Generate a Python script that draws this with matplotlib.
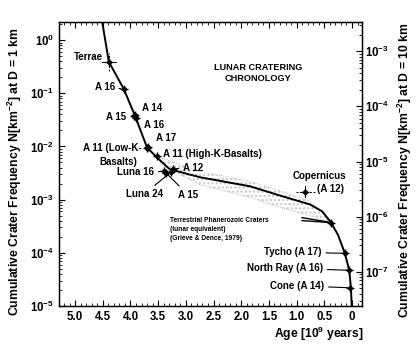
import matplotlib
matplotlib.use('Agg')
import matplotlib.pyplot as plt
from matplotlib.ticker import MultipleLocator, LogLocator, LogFormatterMathtext, NullFormatter

plt.rcParams['font.family'] = ['Liberation Sans', 'DejaVu Sans']
plt.rcParams['font.weight'] = 'bold'
plt.rcParams['mathtext.fontset'] = 'custom'
plt.rcParams['mathtext.rm'] = 'Liberation Sans:bold'
plt.rcParams['mathtext.it'] = 'Liberation Sans:bold'
plt.rcParams['mathtext.bf'] = 'Liberation Sans:bold'
plt.rcParams['mathtext.default'] = 'rm'

# ---- data ----
curve_age = [4.51, 4.39, 4.12, 3.92, 3.70, 3.52, 3.29, 2.74, 1.84, 1.25, 0.76, 0.54,
             0.38, 0.25, 0.13, 0.05, 0.02, 0.004]
curve_n = [2.19, 0.389, 0.120, 0.038, 0.00955, 0.00617, 0.00372, 0.00263, 0.00178,
           0.00115, 0.000813, 0.000603, 0.000372, 0.000214, 9.8e-5, 4.7e-5, 2.2e-5, 8.9e-6]

band_age = [3.47, 2.74, 1.84, 1.25, 0.76, 0.38]
band_upper = [0.0062, 0.0034, 0.0022, 0.0014, 0.00093, 0.00041]
band_lower = [0.0046, 0.0019, 0.0011, 0.00069, 0.0005, 0.00035]

pt_labels = ['Terrae', 'A 16a', 'A 14', 'A 15a', 'A 16b', 'A 17', 'A 11 LowK',
             'A 11 HighK', 'A 12', 'Luna 16', 'Luna 24', 'A 15b',
             'Copernicus', 'Phanerozoic', 'Tycho', 'North Ray', 'Cone']
pt_age = [4.39, 4.12, 3.91, 3.93, 3.90, 3.69, 3.71, 3.52, 3.23, 3.39, 3.27, 3.36,
          0.85, 0.38, 0.13, 0.05, 0.03]
pt_n = [0.39, 0.12, 0.039, 0.037, 0.035, 0.0097, 0.0093, 0.0065, 0.0038, 0.0034,
        0.0033, 0.0032, 0.0014, 0.00037, 9.8e-5, 4.7e-5, 2.2e-5]

terrae_xerr = 0.12
terrae_n_range = [0.26, 0.57]
cop_age_range = [0.67, 1.03]
cop_n_range = [0.0011, 0.0018]

# ---- figure ----
W, H = 417, 346
fig = plt.figure(figsize=(W / 100, H / 100), dpi=100)
ax = fig.add_axes([59 / W, 1 - 306 / H, 303 / W, 284 / H])

ax.set_yscale('log')
ax.set_xlim(5.29, -0.18)
ax.set_ylim(1e-5, 10 ** 0.34)

# band of terrestrial craters
ax.fill_between(band_age, band_lower, band_upper, facecolor='none', edgecolor='#c4c4c4',
                hatch='....', linewidth=0)
ax.plot(band_age, band_upper, color='#a0a0a0', lw=0.6, ls=':')
ax.plot(band_age, band_lower, color='#a0a0a0', lw=0.6, ls=':')

ax.plot(curve_age, curve_n, color='black', lw=1.4, zorder=3)

# error bars
ax.plot([pt_age[0] - terrae_xerr, pt_age[0] + terrae_xerr], [pt_n[0], pt_n[0]],
        color='black', lw=0.7)
ax.plot([pt_age[0], pt_age[0]], terrae_n_range, color='black', lw=0.7, ls=(0, (2, 1.5)))
ax.plot(cop_age_range, [pt_n[12], pt_n[12]], color='black', lw=0.7, ls=(0, (2, 1.5)))
ax.plot([pt_age[12], pt_age[12]], cop_n_range, color='black', lw=0.7)

ax.plot(pt_age, pt_n, ls='none', marker='+', ms=6, mew=1.0, color='black', zorder=4)
ax.plot(pt_age, pt_n, ls='none', marker='o', ms=2.6, color='black', zorder=4)

fs = 7
lead = dict(arrowstyle='-', lw=0.8, color='black', shrinkA=1, shrinkB=2)


def lab(i, text, dx, dy, ha, leader=False, size=fs, **kw):
    ax.annotate(text, (pt_age[i], pt_n[i]), xytext=(dx, dy), textcoords='offset pixels',
                ha=ha, va='center', fontsize=size, fontweight='bold',
                arrowprops=lead if leader else None, **kw)


lab(0, 'Terrae', -6, 5, 'right')
lab(1, 'A 16', -9, 2, 'right', leader=True)
lab(2, 'A 14', 7, 7, 'left')
lab(3, 'A 15', -8, -1, 'right')
lab(4, 'A 16', 8, -7, 'left')
lab(5, 'A 17', 8, 9, 'left')
lab(6, 'A 11 (Low-K-', -5, 0, 'right', leader=True)
lab(6, 'Basalts)', -9, -14, 'right')
lab(7, 'A 11 (High-K-Basalts)', 6, 2, 'left')
lab(8, 'A 12', 10, 1, 'left', leader=True)
lab(9, 'Luna 16', -10, -1, 'right', leader=True)
lab(10, 'Luna 24', -8, -22, 'right', leader=True)
lab(11, 'A 15', 12, -22, 'left', leader=True)
lab(12, 'Copernicus', 14, 16, 'center')
lab(12, '(A 12)', 12, 3, 'left')
lab(14, 'Tycho (A 17)', -23, 1, 'right', leader=True)
lab(15, 'North Ray (A 16)', -26, 2, 'right', leader=True)
lab(16, 'Cone (A 14)', -26, 2, 'right', leader=True)

ax.annotate('Terrestrial Phanerozoic Craters\n(lunar equivalent)\n(Grieve & Dence, 1979)',
            (pt_age[13], pt_n[13]), xytext=(-161, 6), textcoords='offset pixels',
            ha='left', va='top', fontsize=4.8, fontweight='bold', linespacing=1.45)
ax.annotate('', (pt_age[13], pt_n[13]), xytext=(-29, 5), textcoords='offset pixels',
            arrowprops=dict(arrowstyle='-', lw=1.0, color='black', shrinkA=0, shrinkB=2))
ax.annotate('', (pt_age[13], pt_n[13]), xytext=(-29, 2), textcoords='offset pixels',
            arrowprops=dict(arrowstyle='-', lw=1.0, color='black', shrinkA=0, shrinkB=2))

ax.text(0.657, 0.82, 'LUNAR CRATERING\nCHRONOLOGY', transform=ax.transAxes, ha='center',
        va='center', fontsize=6.6, fontweight='bold', linespacing=1.3)

# ticks
ax.xaxis.set_major_locator(MultipleLocator(0.5))
ax.xaxis.set_minor_locator(MultipleLocator(0.1))
ax.xaxis.set_major_formatter(matplotlib.ticker.FuncFormatter(
    lambda v, p: '0' if abs(v) < 1e-9 else f'{v:.1f}'))
ax.yaxis.set_major_locator(LogLocator(base=10, numticks=10))
ax.yaxis.set_minor_locator(LogLocator(base=10, subs=range(2, 10), numticks=20))
ax.yaxis.set_major_formatter(LogFormatterMathtext())
ax.yaxis.set_minor_formatter(NullFormatter())
ax.tick_params(which='both', direction='in', top=True, right=False, labelsize=8.3)
ax.tick_params(which='major', length=4, width=0.8)
ax.tick_params(which='minor', length=2, width=0.6)
for s in ax.spines.values():
    s.set_linewidth(1.0)

ax2 = ax.twinx()
ax2.set_yscale('log')
ax2.set_ylim(10 ** -7.62, 10 ** -2.47)
ax2.yaxis.set_major_locator(LogLocator(base=10, numticks=10))
ax2.yaxis.set_minor_locator(LogLocator(base=10, subs=range(2, 10), numticks=20))
ax2.yaxis.set_major_formatter(LogFormatterMathtext())
ax2.yaxis.set_minor_formatter(NullFormatter())
ax2.tick_params(which='both', direction='in', labelsize=8.3, pad=2)
ax2.tick_params(which='major', length=4, width=0.8)
ax2.tick_params(which='minor', length=2, width=0.6)

fig.text(15 / W, 1 - 172 / H, 'Cumulative Crater Frequency N[km$^{-2}$] at D = 1 km',
         rotation=90, ha='center', va='center', fontsize=8.8, fontweight='bold')
fig.text(405 / W, 1 - 170 / H, 'Cumulative Crater Frequency N[km$^{-2}$] at D = 10 km',
         rotation=90, ha='center', va='center', fontsize=8.8, fontweight='bold')
fig.text(363 / W, 1 - 334 / H, 'Age [10$^{9}$ years]', ha='right', va='center',
         fontsize=8.7, fontweight='bold')

fig.savefig('out.png', dpi=100)
